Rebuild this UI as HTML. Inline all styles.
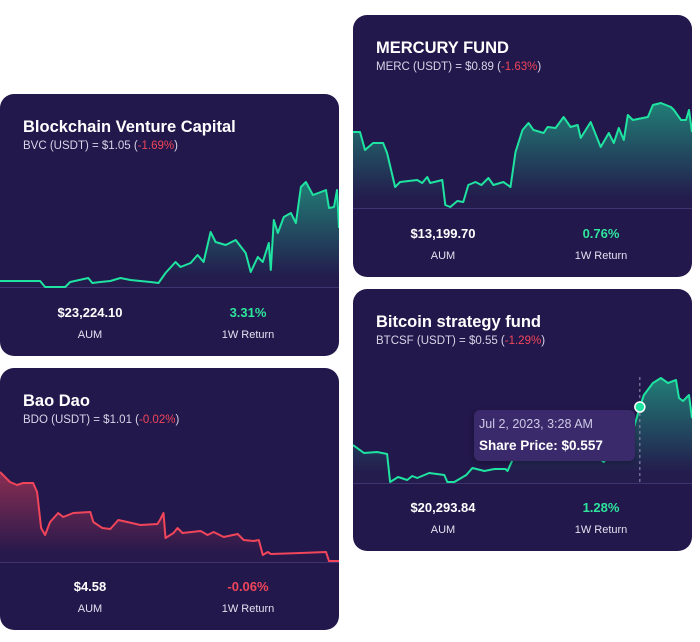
<!DOCTYPE html>
<html><head><meta charset="utf-8">
<style>
body{margin:0;width:700px;height:642px;background:#fff;position:relative;overflow:hidden;font-family:"Liberation Sans",sans-serif}
.card{position:absolute;background:#23184b;border-radius:14px;overflow:hidden;width:339px;height:262px}
.title{position:absolute;left:23px;top:24px;color:#fff;font-weight:bold;font-size:16.5px}
.sub{position:absolute;left:23px;top:46px;color:#d8d4e8;font-size:11.5px}
.sub .neg{color:#f0455a}
.stat{position:absolute;width:160px;text-align:center;color:#fff}
.val{font-weight:bold;font-size:13px}
.lab{font-size:11px;color:#e4e0f0}
svg{position:absolute;left:0;top:0}
</style></head><body>

<div class="card" style="left:0;top:94px">
 <svg id="c1" width="339" height="262"></svg>
 <div class="title">Blockchain Venture Capital</div>
 <div class="sub">BVC (USDT) = $1.05 (<span class="neg">-1.69%</span>)</div>
 <div class="stat" style="left:10px;top:211px"><div class="val">$23,224.10</div><div class="lab" style="margin-top:9px">AUM</div></div>
 <div class="stat" style="left:168px;top:211px"><div class="val" style="color:#2ee59d">3.31%</div><div class="lab" style="margin-top:9px">1W Return</div></div>
</div>

<div class="card" style="left:0;top:368px">
 <svg id="c2" width="339" height="262"></svg>
 <div class="title">Bao Dao</div>
 <div class="sub">BDO (USDT) = $1.01 (<span class="neg">-0.02%</span>)</div>
 <div class="stat" style="left:10px;top:211px"><div class="val">$4.58</div><div class="lab" style="margin-top:9px">AUM</div></div>
 <div class="stat" style="left:168px;top:211px"><div class="val" style="color:#f0455a">-0.06%</div><div class="lab" style="margin-top:9px">1W Return</div></div>
</div>

<div class="card" style="left:353px;top:15px">
 <svg id="c3" width="339" height="262"></svg>
 <div class="title">MERCURY FUND</div>
 <div class="sub">MERC (USDT) = $0.89 (<span class="neg">-1.63%</span>)</div>
 <div class="stat" style="left:10px;top:211px"><div class="val">$13,199.70</div><div class="lab" style="margin-top:9px">AUM</div></div>
 <div class="stat" style="left:168px;top:211px"><div class="val" style="color:#2ee59d">0.76%</div><div class="lab" style="margin-top:9px">1W Return</div></div>
</div>

<div class="card" style="left:353px;top:289px">
 <svg id="c4" width="339" height="262"></svg>
 <div class="title">Bitcoin strategy fund</div>
 <div class="sub">BTCSF (USDT) = $0.55 (<span class="neg">-1.29%</span>)</div>
 <div class="stat" style="left:10px;top:211px"><div class="val">$20,293.84</div><div class="lab" style="margin-top:9px">AUM</div></div>
 <div class="stat" style="left:168px;top:211px"><div class="val" style="color:#2ee59d">1.28%</div><div class="lab" style="margin-top:9px">1W Return</div></div>
 <div style="position:absolute;left:121px;top:121px;width:161px;height:51px;background:#3a2a6c;border-radius:6px;box-shadow:0 2px 6px rgba(0,0,0,.3)">
  <div style="position:absolute;left:5px;top:7px;color:#cfc8e4;font-size:12.5px">Jul 2, 2023, 3:28 AM</div>
  <div style="position:absolute;left:5px;top:28px;color:#fff;font-size:13.5px;font-weight:bold">Share Price: $0.557</div>
 </div>
</div>

<script>
const bvcT=[0,40,45,65,70,88,92,100,110,120,130,140,150,158,165,175,180,190,197,203,210,215,225,235,245,250,257,262,268,270,273,277,283,290,295,300,305,312,320,325,328,333,336,338];
const bvcV=[6,6,0,0,5,9,4,5,6,9,7,6,5,4,14,25,20,24,32,25,55,45,42,47,34,15,30,25,44,17,67,54,70,74,64,100,105,92,95,97,79,80,97,59];
const bdoT=[0,10,17,23,33,37,41,45,50,58,63,73,90,93,102,110,118,127,140,157,160,163,165,173,177,182,200,207,213,223,237,243,253,258,262,267,270,300,325,328,338];
const bdoV=[90,80,77,79,79,70,34,27,40,49,45,49,50,40,34,33,42,40,37,38,43,49,24,29,34,29,31,27,30,25,28,22,21,22,7,10,8,9,10,1,1];
const mercT=[0,7,12,20,30,34,42,47,64,69,74,77,89,92,97,104,110,115,122,128,135,140,150,157,162,169,175,180,190,194,202,210,217,224,227,237,247,255,260,265,270,274,279,294,299,307,317,320,327,332,335,338];
const mercV=[76,76,58,65,65,55,21,26,28,25,31,25,28,3,1,7,6,23,26,23,30,23,26,21,56,78,85,78,75,81,80,91,81,83,70,86,61,75,65,80,68,93,88,91,103,105,101,98,88,88,98,76];
const btcT=[0,11,24,34,37,45,54,59,64,76,91,94,101,113,119,131,141,152,154,159,175,195,215,235,250,265,280,286,290,299,307,314,322,325,329,332,335,338];
const btcV=[38,30,31,29,1,6,3,7,5,10,8,1,1,8,15,12,14,14,12,23,30,35,28,32,21,40,55,76,88,100,105,100,103,85,82,85,88,65];

function draw(id,T,V,color,base,hover){
  const svg=document.getElementById(id);
  const NS='http://www.w3.org/2000/svg';
  const xs=v=>v*339/338, ys=v=>base-v;
  const gid=id+'g';
  const defs=document.createElementNS(NS,'defs');
  defs.innerHTML=`<linearGradient id="${gid}" x1="0" y1="0" x2="0" y2="1"><stop offset="0" stop-color="${color}" stop-opacity="0.5"/><stop offset="0.9" stop-color="${color}" stop-opacity="0.02"/></linearGradient>`;
  svg.appendChild(defs);
  let d='';
  T.forEach((t,i)=>{d+=(i?'L':'M')+xs(t).toFixed(1)+','+ys(V[i]).toFixed(1);});
  const area=document.createElementNS(NS,'path');
  area.setAttribute('d',d+'L'+xs(T[T.length-1])+','+base+'L'+xs(T[0])+','+base+'Z');
  area.setAttribute('fill',`url(#${gid})`);
  
  
  svg.appendChild(area);
  const ln=document.createElementNS(NS,'line');
  ln.setAttribute('x1',0);ln.setAttribute('x2',339);ln.setAttribute('y1',base+0.5);ln.setAttribute('y2',base+0.5);
  ln.setAttribute('stroke','#3d3470');
  
  
  svg.appendChild(ln);
  const p=document.createElementNS(NS,'path');
  p.setAttribute('d',d);p.setAttribute('fill','none');p.setAttribute('stroke',color);p.setAttribute('stroke-width','2');p.setAttribute('stroke-linejoin','round');
  
  
  svg.appendChild(p);
  if(hover!=null){
    const hx=xs(T[hover]),hy=ys(V[hover]);
    const dl=document.createElementNS(NS,'line');
    dl.setAttribute('x1',hx);dl.setAttribute('x2',hx);dl.setAttribute('y1',hy-30);dl.setAttribute('y2',base);
    dl.setAttribute('stroke','#9a94b8');dl.setAttribute('stroke-dasharray','3,3');
    
    
    svg.appendChild(dl);
    const c=document.createElementNS(NS,'circle');
    c.setAttribute('cx',hx);c.setAttribute('cy',hy);c.setAttribute('r',5);c.setAttribute('fill',color);c.setAttribute('stroke','#fff');c.setAttribute('stroke-width','1.5');
    
    
    svg.appendChild(c);
  }
}
draw('c1',bvcT,bvcV,'#1fe3a0',193,null);
draw('c2',bdoT,bdoV,'#f0455a',194,null);
draw('c3',mercT,mercV,'#1fe3a0',193,null);
draw('c4',btcT,btcV,'#1fe3a0',194,27);
</script>
</body></html>
